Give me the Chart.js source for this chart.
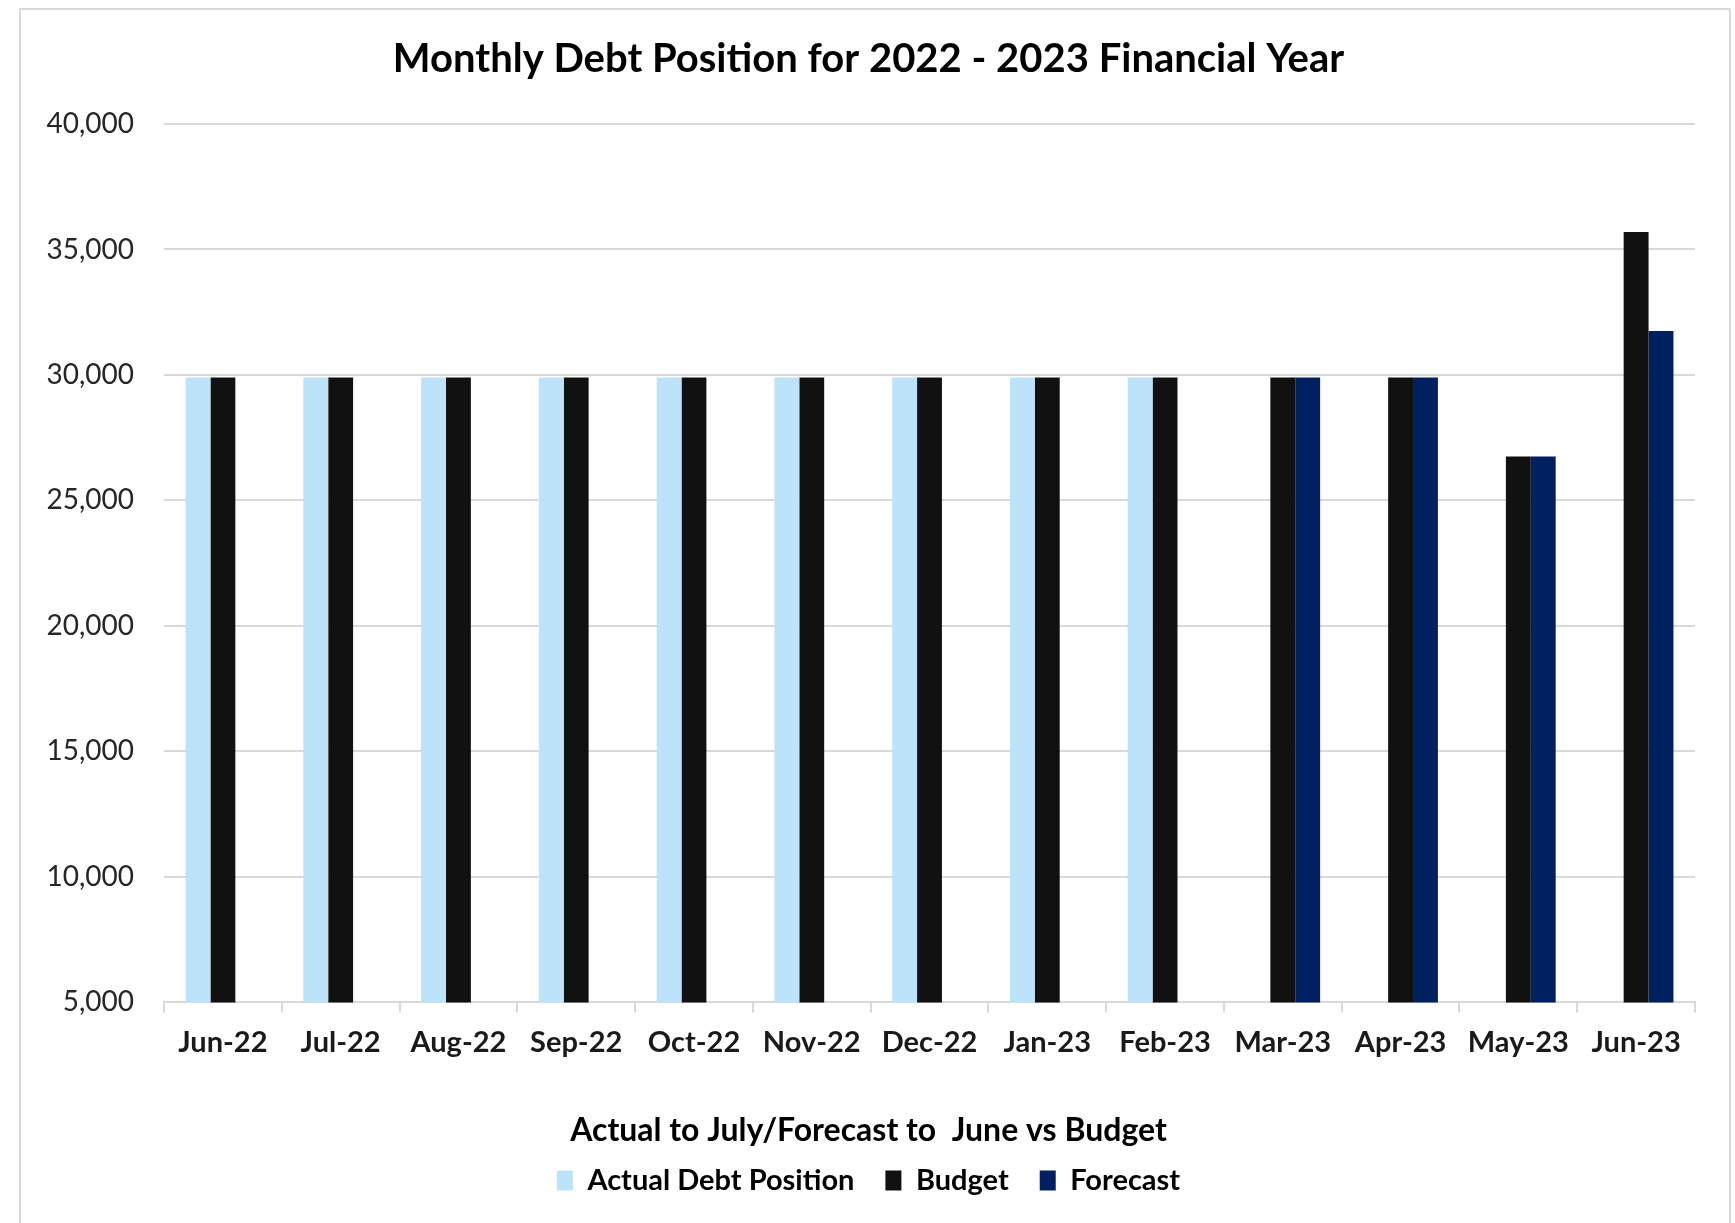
<!DOCTYPE html>
<html>
<head>
<meta charset="utf-8">
<script src="https://cdn.jsdelivr.net/npm/chart.js@4.4.0/dist/chart.umd.min.js"></script>
<style>
  body { margin: 0; background: #ffffff; }
  #frame { position: absolute; left: 19px; top: 8px; width: 1708px; height: 1300px; border: 2px solid #d9d9d9; }
  #wrap { position: absolute; left: 0; top: 0; width: 1735px; height: 1223px; }
</style>
</head>
<body>
<div id="frame"></div>
<div id="wrap"><canvas id="debt-chart" width="1735" height="1223"></canvas></div>
<script>
var months = ["Jun-22", "Jul-22", "Aug-22", "Sep-22", "Oct-22", "Nov-22", "Dec-22",
  "Jan-23", "Feb-23", "Mar-23", "Apr-23", "May-23", "Jun-23"];
var actualDebt = [29900, 29900, 29900, 29900, 29900, 29900, 29900, 29900, 29900, null, null, null, null];
var budget = [29900, 29900, 29900, 29900, 29900, 29900, 29900, 29900, 29900, 29900, 29900, 26750, 35700];
var forecast = [null, null, null, null, null, null, null, null, null, 29900, 29900, 26750, 31750];
var yTicks = [5000, 10000, 15000, 20000, 25000, 30000, 35000, 40000];

window.onload = function () {
  Chart.defaults.font.family = "Lato, 'DejaVu Sans', sans-serif";
  var padLeft = 42;

  new Chart(document.getElementById("debt-chart"), {
    type: 'bar',
    data: {
      labels: months,
      datasets: [{
        label: "Actual Debt Position",
        data: actualDebt,
        backgroundColor: "#bde3fb"
      }, {
        label: "Budget",
        data: budget,
        backgroundColor: "#111111"
      }, {
        label: "Forecast",
        data: forecast,
        backgroundColor: "#002060"
      }]
    },
    options: {
      responsive: false,
      animation: false,
      categoryPercentage: 0.634,
      barPercentage: 1,
      layout: { padding: { left: padLeft, right: 40, top: 0, bottom: 18 } },
      plugins: {
        tooltip: { enabled: false },
        title: {
          display: true,
          text: 'Monthly Debt Position for 2022 - 2023 Financial Year',
          color: '#000000',
          font: { size: 40, weight: 'bold' },
          padding: { top: 35, bottom: 41 }
        },
        legend: {
          position: 'bottom',
          title: {
            display: true,
            text: 'Actual to July/Forecast to  June vs Budget',
            color: '#000000',
            font: { size: 32, weight: 'bold', lineHeight: 0.4 },
            padding: { top: 41, bottom: 8 }
          },
          labels: {
            color: '#000000',
            font: { size: 29, weight: 'bold' },
            boxWidth: 16,
            boxHeight: 20,
            padding: 31
          }
        }
      },
      scales: {
        x: {
          grid: {
            display: true,
            drawOnChartArea: false,
            color: '#d9d9d9',
            lineWidth: 2,
            tickLength: 10
          },
          border: { display: true, color: '#d9d9d9', width: 2 },
          ticks: {
            color: '#1a1a1a',
            font: { size: 29, weight: 'bold' },
            padding: 13,
            maxRotation: 0,
            autoSkip: false
          }
        },
        y: {
          min: 5000,
          max: 40000,
          afterFit: function (scale) { scale.width = 164 - padLeft; },
          afterBuildTicks: function (scale) {
            scale.ticks = yTicks.map(function (v) { return { value: v }; });
          },
          grid: { color: '#d9d9d9', lineWidth: 2, drawTicks: false },
          border: { display: false },
          ticks: {
            color: '#262626',
            font: { size: 28 },
            padding: 30,
            callback: function (v) { return v.toLocaleString('en-US'); }
          }
        }
      }
    }
  });
};
</script>
</body>
</html>
